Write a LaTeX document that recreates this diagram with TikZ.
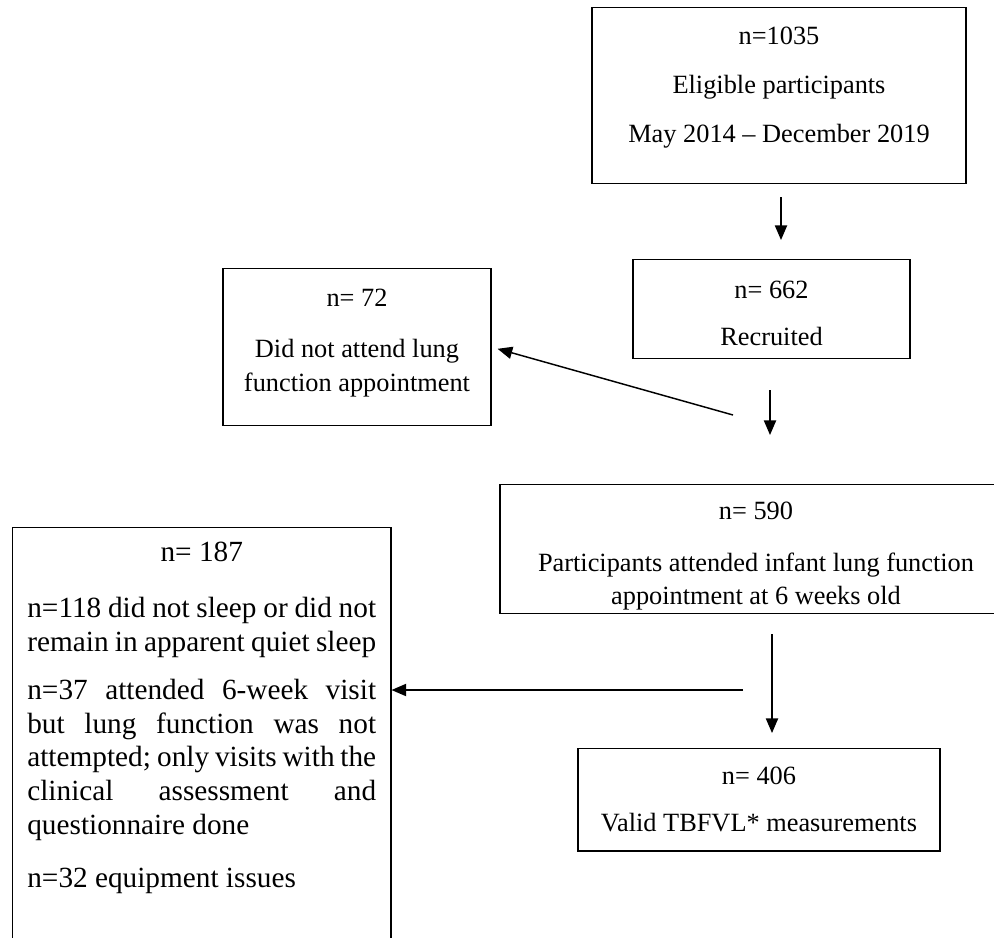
\documentclass[tikz,border=0pt]{standalone}
\usepackage{fontspec}
\setmainfont{Liberation Serif}
\usetikzlibrary{arrows.meta}
\newcommand{\px}{0.41pt}
\newcommand{\boxtop}[1]{\rule{0pt}{#1}}
\newcommand{\boxbot}[1]{\rule[-#1]{0pt}{0pt}}
\tikzset{
  box/.style={draw=black, line width=0.6pt, align=center, anchor=north, inner sep=0pt, font=\fontsize{10.8}{13.9}\selectfont},
  arr/.style={line width=0.6pt, -{Triangle[length=6pt,width=5pt]}}
}

\begin{document}
\begin{tikzpicture}[x=\px,y=-\px]
\useasboundingbox (0,0) rectangle (994,937);
\clip (0,0) rectangle (994,937);
% boxes
\node[box, minimum width=374*\px] (elig) at (779,7) {\boxtop{15pt}n=1035\\[6.4pt] Eligible participants\\[5.9pt] May 2014 -- December 2019\boxbot{17pt}};
\node[box, minimum width=277*\px] (rec) at (771.5,259) {\boxtop{15.8pt}n= 662\\[5.4pt] Recruited\boxbot{5.5pt}};
\node[box, minimum width=268*\px] (dna) at (357,268) {\boxtop{15.4pt}n= 72\\[7pt] Did not attend lung\\ function appointment\boxbot{14.1pt}};
\node[box, minimum width=512*\px] (att) at (756,484) {\boxtop{14.1pt}n= 590\\[7.4pt] Participants attended infant lung function\\ appointment at 6 weeks old\boxbot{3.5pt}};
\node[box, minimum width=362*\px] (val) at (759,748) {\boxtop{14.6pt}n= 406\\[5.4pt] Valid TBFVL* measurements\boxbot{8pt}};
\node[box, anchor=north west, text width=143pt, align=justify, inner xsep=6pt, inner ysep=6pt, font=\fontsize{12}{13.8}\selectfont] (exc) at (12,527) {{\centering n= 187\par}\vspace{9pt}
  n=118 did not sleep or did not\linebreak remain in apparent quiet sleep\par\vspace{6pt}
  n=37 attended 6-week visit\linebreak but lung function was not\linebreak attempted; only visits with the\linebreak clinical assessment and\linebreak questionnaire done\par\vspace{8pt}
  n=32 equipment issues\rule[-40pt]{0pt}{1pt}\par};
% arrows
\coordinate (a1s) at (781,197);
\coordinate (a1e) at (781,240);
\coordinate (a2s) at (770,390);
\coordinate (a2e) at (770,435);
\coordinate (a3s) at (733,415);
\coordinate (a4s) at (772,634);
\coordinate (a4e) at (772,733);
\coordinate (a5s) at (743,690);
\draw[arr] (a1s) -- (a1e);
\draw[arr] (a2s) -- (a2e);
\draw[arr, shorten >=2.5pt] (a3s) -- (dna.east);
\draw[arr] (a4s) -- (a4e);
\draw[arr] (a5s) -- (a5s -| exc.east);
\end{tikzpicture}
\end{document}
